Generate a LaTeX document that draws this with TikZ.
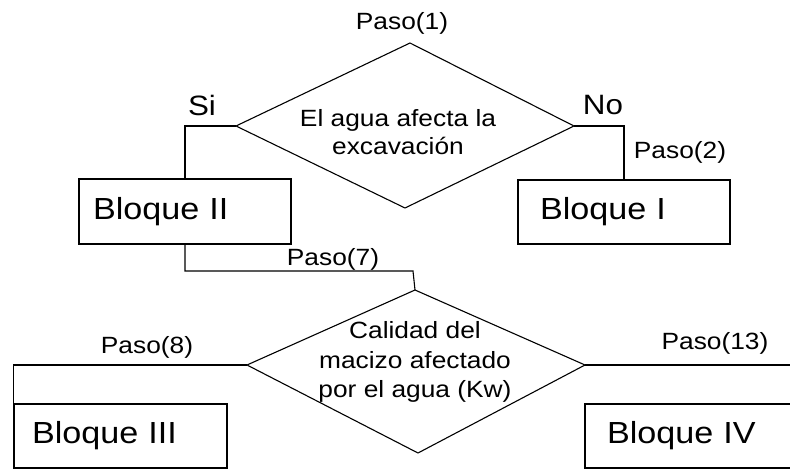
\documentclass[tikz,border=0pt]{standalone}
\usepackage{fontspec}
\setmainfont{Liberation Sans}[FakeStretch=1.12]
\begin{document}
\begin{tikzpicture}[x=1pt,y=-1pt,line width=1.1pt,
  lbl/.style={inner sep=0pt,font=\fontsize{23.5}{28}\selectfont},
  yesno/.style={inner sep=0pt,font=\fontsize{28}{32}\selectfont},
  blk/.style={draw,rectangle,inner ysep=0pt,align=left,
    font=\fontsize{30.5}{36}\selectfont},
  line/.style={draw,line join=miter}]
\useasboundingbox (0,0) rectangle (790,470);
\clip (0,0) rectangle (790,470);
% decision 1
\coordinate (d1t) at (410,43);
\coordinate (d1r) at (574,126);
\coordinate (d1b) at (405,208);
\coordinate (d1l) at (236,126);
\draw[line] (d1t) -- (d1r) -- (d1b) -- (d1l) -- cycle;
\node[lbl,align=center,font=\fontsize{23.5}{28}\selectfont] (d1) at (398,132) {El agua afecta la\\excavación};
% decision 2
\coordinate (d2t) at (415,290);
\coordinate (d2r) at (585,365);
\coordinate (d2b) at (418,453);
\coordinate (d2l) at (247,365);
\draw[line] (d2t) -- (d2r) -- (d2b) -- (d2l) -- cycle;
\node[lbl,align=center,font=\fontsize{23.5}{29.5}\selectfont] (d2) at (415,362) {Calidad del\\macizo afectado\\por el agua (Kw)};
% blocks
\node[blk,minimum width=212pt,minimum height=65pt,inner xsep=14pt,text width=184pt] (b2) at (185,211.5) {Bloque II};
\node[blk,minimum width=212pt,minimum height=64pt,inner xsep=22pt,text width=168pt] (b1) at (624,212) {Bloque I};
\node[blk,minimum width=213pt,minimum height=64pt,inner xsep=18pt,text width=177pt] (b3) at (120.5,436) {Bloque III};
\node[blk,minimum width=215pt,minimum height=64pt,inner xsep=22pt,text width=171pt] (b4) at (692.5,436) {Bloque IV};
% connectors
\coordinate (k7) at (413,271);
\coordinate (k13) at (800,365);
\draw[line] (d1l) -| (b2.north);
\draw[line] (d1r) -| (b1.north);
\draw[line] (b2.south) |- (k7) -- (d2t);
\draw[line] (d2l) -| (b3.north west);
\draw[line] (d2r) -- (k13);
% labels
\node[lbl] (p1) at (402,23) {Paso(1)};
\node[yesno] (si) at (202,105) {Si};
\node[yesno] (no) at (603,105) {No};
\node[lbl] (p2) at (680,152) {Paso(2)};
\node[lbl] (p7) at (333,259) {Paso(7)};
\node[lbl] (p8) at (147,347) {Paso(8)};
\node[lbl] (p13) at (715,343) {Paso(13)};
\end{tikzpicture}
\end{document}
